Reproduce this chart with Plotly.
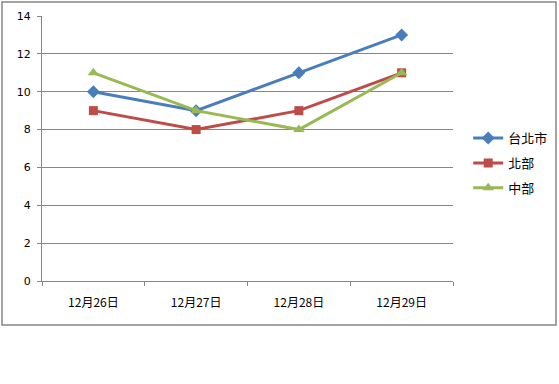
import plotly.graph_objects as go

categories = ["12月26日", "12月27日", "12月28日", "12月29日"]
taipei = [10, 9, 11, 13]
north = [9, 8, 9, 11]
central = [11, 9, 8, 11]
series_names = ["台北市", "北部", "中部"]
colors = ["#4A7EBB", "#BE4B48", "#98B954"]
symbols = ["diamond", "square", "triangle-up"]
y_ticks = [0, 2, 4, 6, 8, 10, 12, 14]

fig = go.Figure()
for i, (name, vals) in enumerate(zip(series_names, [taipei, north, central])):
    fig.add_trace(go.Scatter(
        x=categories, y=vals, name=name, mode="lines+markers",
        line=dict(color=colors[i], width=3),
        marker=dict(symbol=symbols[i], size=9 if i == 1 else 10, color=colors[i]),
        legendgroup=f"g{i}",
    ))

fig.update_layout(
    width=559, height=384,
    margin=dict(l=42, r=106, t=16, b=103, autoexpand=False),
    paper_bgcolor="white", plot_bgcolor="white",
    font=dict(family="Noto Sans CJK TC, DejaVu Sans", size=11, color="#000000"),
    showlegend=True,
    legend=dict(x=1.037, y=0.445, xanchor="left", yanchor="middle",
                font=dict(size=13, family="Noto Sans CJK TC"),
                tracegroupgap=5, bgcolor="rgba(0,0,0,0)"),
)
fig.update_xaxes(
    type="category", showline=True, linecolor="#868686", linewidth=1,
    ticks="outside", tickson="boundaries", ticklen=4, tickcolor="#868686",
    showgrid=False, tickfont=dict(size=12, family="Noto Sans CJK TC"),
    ticklabelstandoff=11, range=[-0.5, 3.5],
)
fig.update_yaxes(
    range=[0, 14], tickvals=y_ticks, showline=True, linecolor="#868686", linewidth=1,
    ticks="outside", ticklen=4, tickcolor="#868686",
    showgrid=True, gridcolor="#868686", gridwidth=1, zeroline=False,
    tickfont=dict(size=11, family="DejaVu Sans"), ticklabelstandoff=4,
)
fig.add_shape(type="rect", xref="paper", yref="paper",
              x0=-40/411, x1=(556-42)/411, y0=(281-325)/265, y1=(281-2)/265,
              line=dict(color="#868686", width=1.5), fillcolor="rgba(0,0,0,0)", layer="below")
fig.write_html("out.html")
